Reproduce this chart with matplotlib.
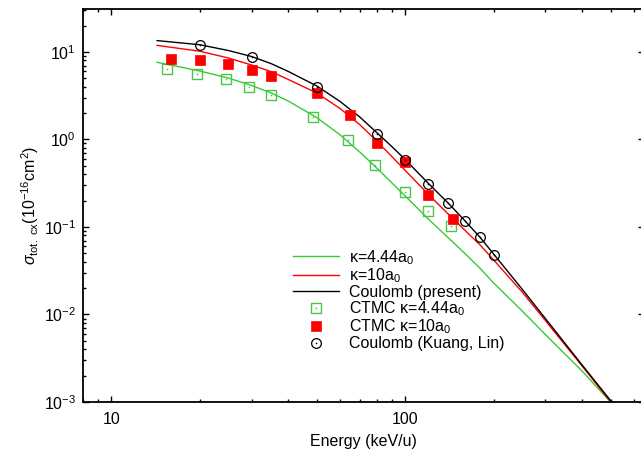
import matplotlib
matplotlib.use("Agg")
import matplotlib.pyplot as plt
from matplotlib.ticker import FixedLocator, LogLocator, NullFormatter

plt.rcParams["font.family"] = ["Liberation Sans", "DejaVu Sans"]
plt.rcParams["mathtext.fontset"] = "custom"
plt.rcParams["mathtext.rm"] = "Liberation Sans"
plt.rcParams["mathtext.it"] = "Liberation Sans:italic"
plt.rcParams["mathtext.sf"] = "Liberation Sans"

# ============================================================
# DADOS
# ============================================================

# curvas teoricas (keV/u, 1e-16 cm^2)
e_curva = [14.3, 20, 25, 30, 35, 40, 50, 60, 70, 80, 90, 100, 120, 140, 160,
           180, 200, 250, 300, 400, 500]
k444 = [7.63, 6.06, 5.04, 4.14, 3.40, 2.75, 1.78, 1.13, 0.72, 0.472, 0.32,
        0.226, 0.123, 0.0755, 0.0495, 0.0336, 0.0229, 0.011, 0.0059, 0.00226,
        0.001]
k10 = [11.9, 10.2, 8.54, 7.1, 5.96, 4.85, 3.40, 2.26, 1.48, 0.961, 0.64,
       0.443, 0.235, 0.141, 0.0912, 0.0622, 0.042, 0.0181, 0.00853, 0.00258,
       0.00101]
coulomb = [13.5, 12.1, 10.4, 8.88, 7.35, 5.99, 4.09, 2.72, 1.81, 1.20, 0.832,
           0.59, 0.314, 0.188, 0.117, 0.0759, 0.0491, 0.0195, 0.009, 0.00265,
           0.00104]

# CTMC kappa = 4.44 a0
e_ctmc444 = [15.5, 19.5, 24.5, 29.5, 35, 48.5, 64, 79, 100, 120, 143]
ctmc444 = [6.34, 5.65, 4.88, 4.0, 3.2, 1.81, 0.986, 0.505, 0.253, 0.153, 0.103]

# CTMC kappa = 10 a0
e_ctmc10 = [16, 20, 25, 30, 35, 50, 65, 80, 100, 120, 145]
ctmc10 = [8.32, 8.17, 7.35, 6.23, 5.32, 3.43, 1.92, 0.91, 0.557, 0.232, 0.124]

# Coulomb (Kuang, Lin)
e_kl = [20, 30, 50, 80, 100, 120, 140, 160, 180, 200]
kl = [12.1, 8.77, 4.0, 1.16, 0.59, 0.308, 0.187, 0.118, 0.077, 0.0475]

VERDE = "#33cc33"
VERDE_M = "#4cc44c"

# ============================================================
# GRAFICO
# ============================================================

fig = plt.figure(figsize=(6.41, 4.53), dpi=100)
ax = fig.add_axes([83 / 641, 51 / 453, 561 / 641, 393 / 453])

l1, = ax.plot(e_curva, k444, color=VERDE, lw=1.0)
l2, = ax.plot(e_curva, k10, color="red", lw=1.0)
l3, = ax.plot(e_curva, coulomb, color="black", lw=1.0)

m1, = ax.plot(e_ctmc444, ctmc444, ls="none", marker="s", ms=7.2,
              mfc="none", mec=VERDE_M, mew=1.0)
d1, = ax.plot(e_ctmc444, ctmc444, ls="none", marker="o", ms=1.2,
              mfc=VERDE_M, mec=VERDE_M, mew=0)
m2, = ax.plot(e_ctmc10, ctmc10, ls="none", marker="s", ms=7,
              mfc="red", mec="red", mew=0.5)
m3, = ax.plot(e_kl, kl, ls="none", marker="o", ms=7,
              mfc="none", mec="black", mew=0.9)
d3, = ax.plot(e_kl, kl, ls="none", marker="o", ms=1.2,
              mfc="black", mec="black", mew=0)

ax.set_xscale("log")
ax.set_yscale("log")
ax.set_xlim(8, 650)
ax.set_ylim(1e-3, 31)

ax.xaxis.set_major_locator(FixedLocator([10, 100]))
ax.set_xticklabels(["10", "100"])
ax.xaxis.set_minor_locator(LogLocator(base=10, subs=range(2, 10), numticks=20))
ax.xaxis.set_minor_formatter(NullFormatter())
ax.yaxis.set_minor_locator(LogLocator(base=10, subs=range(2, 10), numticks=20))
ax.yaxis.set_minor_formatter(NullFormatter())

ax.tick_params(which="both", direction="in", top=True, right=True,
               labelsize=11.5, width=1.0)
ax.tick_params(axis="x", which="major", length=4.5, pad=7)
ax.tick_params(axis="y", which="major", length=4.5, pad=5)
ax.tick_params(which="minor", length=2.5)
for s in ax.spines.values():
    s.set_linewidth(1.3)

ax.set_xlabel("Energy (keV/u)", fontsize=11.5, labelpad=5)
ax.set_ylabel(r"$\sigma_{\rm tot.\ cx}$(10$^{-16}$cm$^2$)", fontsize=11.5, labelpad=2)

ax.legend(
    [l1, l2, l3, (m1, d1), m2, (m3, d3)],
    ["κ=4.44a$_0$", "κ=10a$_0$", "Coulomb (present)",
     "CTMC κ=4.44a$_0$", "CTMC κ=10a$_0$", "Coulomb (Kuang, Lin)"],
    loc="upper left",
    bbox_to_anchor=(0.374, 0.392),
    frameon=False,
    fontsize=11.5,
    borderpad=0,
    borderaxespad=0,
    handlelength=2.9,
    handletextpad=0.6,
    labelspacing=-0.02,
    numpoints=1,
)

fig.savefig("out.png", dpi=100)
plt.close(fig)
